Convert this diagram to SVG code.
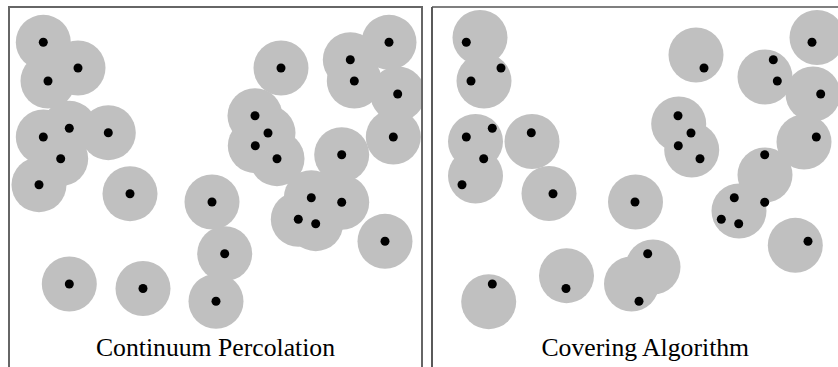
<svg xmlns="http://www.w3.org/2000/svg" xmlns:xlink="http://www.w3.org/1999/xlink" width="838" height="367" viewBox="0 0 838 367">
<style>
.disk{fill:#c0c0c0}
.pt{fill:#000}
.lbl{font-family:"Liberation Serif","Times New Roman",serif;font-size:25.7px;fill:#000;text-anchor:middle}
</style>
<defs>
<circle id="d" r="27.5" class="disk"/>
<circle id="p" r="4.5" class="pt"/>
<clipPath id="clipL"><rect x="9" y="7" width="413" height="360"/></clipPath>
<clipPath id="clipR"><rect x="432" y="7" width="420" height="360"/></clipPath>
<g id="pts">
<use xlink:href="#p" x="43.3" y="42.3"/><use xlink:href="#p" x="78" y="68"/><use xlink:href="#p" x="48" y="81"/>
<use xlink:href="#p" x="69.3" y="128.3"/><use xlink:href="#p" x="43.3" y="137"/><use xlink:href="#p" x="108.3" y="132.7"/>
<use xlink:href="#p" x="60.7" y="158.7"/><use xlink:href="#p" x="39" y="184.7"/><use xlink:href="#p" x="130" y="193.7"/>
<use xlink:href="#p" x="69.3" y="284"/><use xlink:href="#p" x="143" y="288.5"/><use xlink:href="#p" x="212" y="202"/>
<use xlink:href="#p" x="224.7" y="253.7"/><use xlink:href="#p" x="216" y="301.3"/><use xlink:href="#p" x="311.3" y="197.7"/>
<use xlink:href="#p" x="341.7" y="202.3"/><use xlink:href="#p" x="298.3" y="219.3"/><use xlink:href="#p" x="315.7" y="223.7"/>
<use xlink:href="#p" x="385" y="241.3"/><use xlink:href="#p" x="281" y="68"/><use xlink:href="#p" x="350.3" y="59.7"/>
<use xlink:href="#p" x="389" y="42.3"/><use xlink:href="#p" x="354.3" y="81"/><use xlink:href="#p" x="397.7" y="94"/>
<use xlink:href="#p" x="255" y="115.7"/><use xlink:href="#p" x="268" y="133"/><use xlink:href="#p" x="255.3" y="145.7"/>
<use xlink:href="#p" x="277" y="158.7"/><use xlink:href="#p" x="341.7" y="154.7"/><use xlink:href="#p" x="393.3" y="137"/>
</g>
</defs>
<rect width="838" height="367" fill="#fff"/>
<g id="panel-percolation">
<g id="disks-percolation" clip-path="url(#clipL)">
<use xlink:href="#d" x="43.3" y="42.3"/><use xlink:href="#d" x="78" y="68"/><use xlink:href="#d" x="48" y="81"/>
<use xlink:href="#d" x="69.3" y="128.3"/><use xlink:href="#d" x="43.3" y="137"/><use xlink:href="#d" x="108.3" y="132.7"/>
<use xlink:href="#d" x="60.7" y="158.7"/><use xlink:href="#d" x="39" y="184.7"/><use xlink:href="#d" x="130" y="193.7"/>
<use xlink:href="#d" x="69.3" y="284"/><use xlink:href="#d" x="143" y="288.5"/><use xlink:href="#d" x="212" y="202"/>
<use xlink:href="#d" x="224.7" y="253.7"/><use xlink:href="#d" x="216" y="301.3"/><use xlink:href="#d" x="311.3" y="197.7"/>
<use xlink:href="#d" x="341.7" y="202.3"/><use xlink:href="#d" x="298.3" y="219.3"/><use xlink:href="#d" x="315.7" y="223.7"/>
<use xlink:href="#d" x="385" y="241.3"/><use xlink:href="#d" x="281" y="68"/><use xlink:href="#d" x="350.3" y="59.7"/>
<use xlink:href="#d" x="389" y="42.3"/><use xlink:href="#d" x="354.3" y="81"/><use xlink:href="#d" x="397.7" y="94"/>
<use xlink:href="#d" x="255" y="115.7"/><use xlink:href="#d" x="268" y="133"/><use xlink:href="#d" x="255.3" y="145.7"/>
<use xlink:href="#d" x="277" y="158.7"/><use xlink:href="#d" x="341.7" y="154.7"/><use xlink:href="#d" x="393.3" y="137"/>
</g>
<use id="points-percolation" xlink:href="#pts"/>
<rect x="9" y="7" width="413" height="370" fill="none" stroke="#666" stroke-width="2"/>
<text class="lbl" x="215.5" y="356">Continuum Percolation</text>
</g>
<g id="panel-covering">
<g id="disks-covering" clip-path="url(#clipR)">
<use xlink:href="#d" x="480" y="37.5"/><use xlink:href="#d" x="484" y="81"/><use xlink:href="#d" x="475.5" y="141.5"/>
<use xlink:href="#d" x="532" y="141.5"/><use xlink:href="#d" x="475.5" y="176"/><use xlink:href="#d" x="549" y="193.5"/>
<use xlink:href="#d" x="488.7" y="301.7"/><use xlink:href="#d" x="566.5" y="275.7"/><use xlink:href="#d" x="631.5" y="284"/>
<use xlink:href="#d" x="653" y="267"/><use xlink:href="#d" x="635.5" y="202"/><use xlink:href="#d" x="739" y="211"/>
<use xlink:href="#d" x="765" y="175"/><use xlink:href="#d" x="795.3" y="245.3"/><use xlink:href="#d" x="696" y="55"/>
<use xlink:href="#d" x="817" y="37.5"/><use xlink:href="#d" x="765" y="77"/><use xlink:href="#d" x="813" y="94"/>
<use xlink:href="#d" x="804" y="142"/><use xlink:href="#d" x="678.7" y="124"/><use xlink:href="#d" x="691.7" y="150"/>
</g>
<use id="points-covering" xlink:href="#pts" x="423"/>
<line x1="432" y1="7" x2="432" y2="367" stroke="#000" stroke-width="1.3"/>
<line x1="432" y1="7" x2="838" y2="7" stroke="#555" stroke-width="1.5"/>
<text class="lbl" x="645.3" y="356">Covering Algorithm</text>
</g>
</svg>
